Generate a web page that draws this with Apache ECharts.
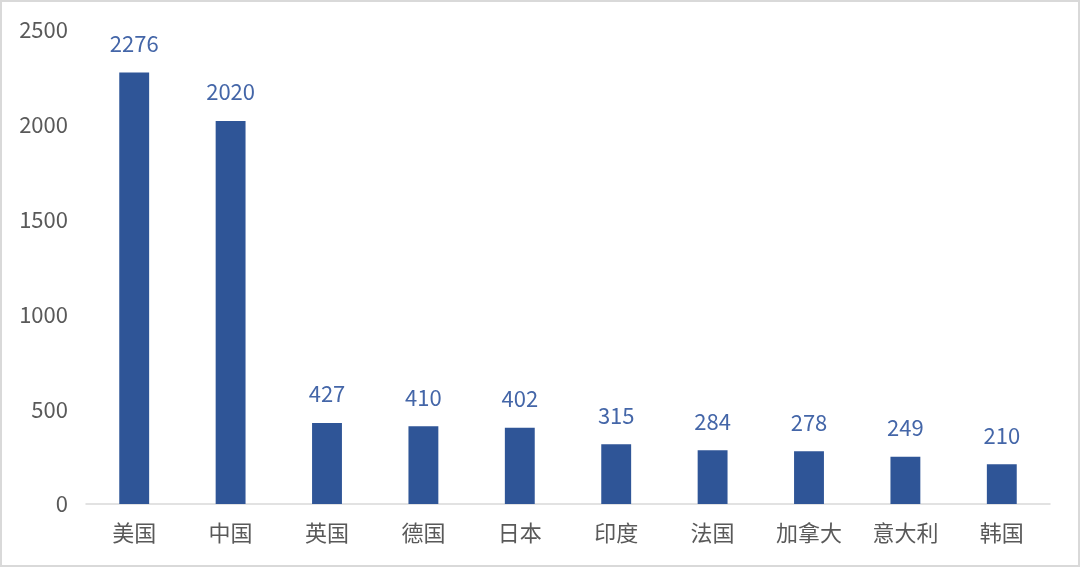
<!DOCTYPE html>
<html>
<head>
<meta charset="utf-8">
<script src="https://cdn.jsdelivr.net/npm/echarts@6/dist/echarts.min.js"></script>
<style>
  html, body { margin: 0; padding: 0; background: #fff; }
  #chart { width: 1080px; height: 567px; box-sizing: border-box; border: 2px solid #d9d9d9; }
</style>
</head>
<body>
<div id="chart"></div>
<script>
const categories = ['美国', '中国', '英国', '德国', '日本', '印度', '法国', '加拿大', '意大利', '韩国']
const values = [2276, 2020, 427, 410, 402, 315, 284, 278, 249, 210]

const chart = echarts.init(document.getElementById('chart'), null, { renderer: 'canvas' })

const font = '"Noto Sans CJK SC", "Noto Sans", sans-serif'

chart.setOption({
  animation: false,
  grid: { left: 84, right: 28, top: 28, bottom: 61 },
  xAxis: {
    type: 'category',
    data: categories,
    axisLine: { lineStyle: { color: '#d9d9d9', width: 1.5 } },
    axisTick: { show: false },
    axisLabel: { color: '#595959', fontSize: 22, margin: 18, fontFamily: font },
  },
  yAxis: {
    type: 'value',
    min: 0,
    max: 2500,
    interval: 500,
    splitLine: { show: false },
    axisLine: { show: false },
    axisLabel: {
      color: '#595959', fontSize: 22, margin: 18, fontFamily: font,
      formatter: (v) => String(v),
    },
  },
  series: [{
    type: 'bar',
    data: values,
    barWidth: '31%',
    itemStyle: { color: '#2f5597' },
    label: {
      show: true,
      position: 'top',
      distance: 18,
      color: '#4466a8',
      fontSize: 22,
      fontFamily: font,
    },
  }],
})
</script>
</body>
</html>
